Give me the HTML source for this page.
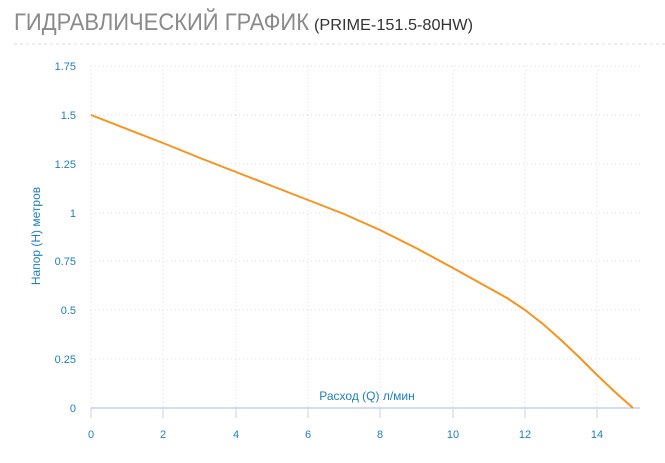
<!DOCTYPE html>
<html><head><meta charset="utf-8"><style>
body{margin:0;background:#fff;width:665px;height:458px;overflow:hidden;font-family:"Liberation Sans","DejaVu Sans",sans-serif}
</style></head><body>
<svg width="665" height="458" xmlns="http://www.w3.org/2000/svg" font-family="Liberation Sans, DejaVu Sans, sans-serif">
<text x="14" y="30" font-size="24" fill="#8a8a8a" font-weight="300" textLength="295" lengthAdjust="spacingAndGlyphs">ГИДРАВЛИЧЕСКИЙ ГРАФИК</text>
<text x="314" y="30" font-size="16" fill="#333" textLength="159" lengthAdjust="spacingAndGlyphs">(PRIME-151.5-80HW)</text>
<line x1="14" y1="44" x2="665" y2="44" stroke="#ddd" stroke-dasharray="3,3"/>
<g stroke="#ddd" stroke-dasharray="1,3">
<line x1="91" y1="66" x2="640" y2="66"/><line x1="91" y1="115" x2="640" y2="115"/><line x1="91" y1="164" x2="640" y2="164"/><line x1="91" y1="213" x2="640" y2="213"/><line x1="91" y1="261" x2="640" y2="261"/><line x1="91" y1="310" x2="640" y2="310"/><line x1="91" y1="359" x2="640" y2="359"/>
<line x1="91" y1="66" x2="91" y2="408"/><line x1="163" y1="66" x2="163" y2="408"/><line x1="236" y1="66" x2="236" y2="408"/><line x1="308" y1="66" x2="308" y2="408"/><line x1="380" y1="66" x2="380" y2="408"/><line x1="453" y1="66" x2="453" y2="408"/><line x1="525" y1="66" x2="525" y2="408"/><line x1="597" y1="66" x2="597" y2="408"/>
</g>
<line x1="91" y1="408" x2="640" y2="408" stroke="#c5d2e8" stroke-width="1.5"/>
<g stroke="#c5d2e8"><line x1="91" y1="408" x2="91" y2="418"/><line x1="163" y1="408" x2="163" y2="418"/><line x1="236" y1="408" x2="236" y2="418"/><line x1="308" y1="408" x2="308" y2="418"/><line x1="380" y1="408" x2="380" y2="418"/><line x1="453" y1="408" x2="453" y2="418"/><line x1="525" y1="408" x2="525" y2="418"/><line x1="597" y1="408" x2="597" y2="418"/></g>
<g fill="#1e7fc0" font-size="11" text-anchor="end">
<text x="76" y="70">1.75</text><text x="76" y="119">1.5</text><text x="76" y="168">1.25</text><text x="76" y="217">1</text><text x="76" y="265">0.75</text><text x="76" y="314">0.5</text><text x="76" y="363">0.25</text><text x="76" y="412">0</text>
</g>
<g fill="#1e7fc0" font-size="11" text-anchor="middle">
<text x="91" y="438">0</text><text x="163" y="438">2</text><text x="236" y="438">4</text><text x="308" y="438">6</text><text x="380" y="438">8</text><text x="453" y="438">10</text><text x="525" y="438">12</text><text x="597" y="438">14</text>
<text x="367" y="400" font-size="12">Расход (Q) л/мин</text>
<text transform="translate(40,236) rotate(-90)" font-size="12">Напор (H) метров</text>
</g>
<polyline fill="none" stroke="#f7931e" stroke-width="2" stroke-linejoin="round" points="91,115 127,129 163,143 200,158 236,172 272,186 308,200 344,214 380,230 416,248 453,268 489,288 507,298 525,310 543,324 561,340 579,357 597,375 615,392 633,408"/>
</svg>
</body></html>
